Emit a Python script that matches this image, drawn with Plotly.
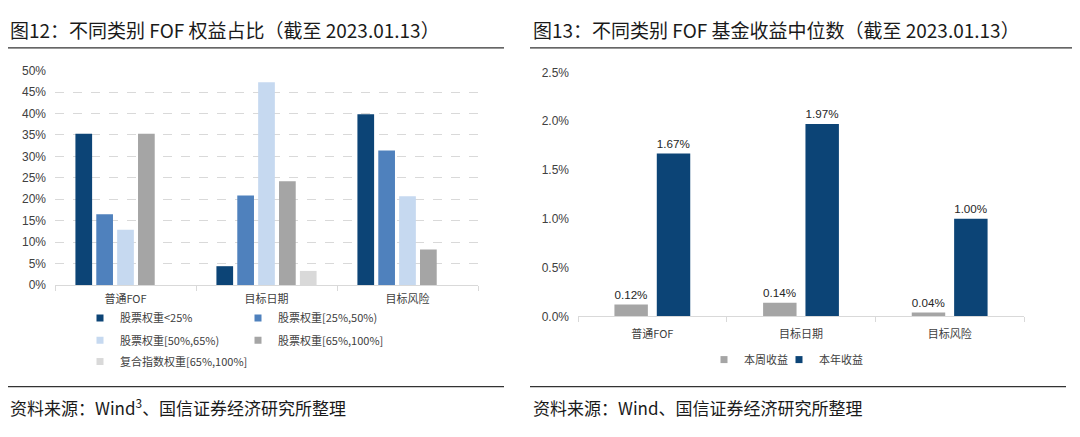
import plotly.graph_objects as go

# ---------------- data ----------------
left_categories = ["普通FOF", "目标日期", "目标风险"]
left_series_names = ["股票权重<25%", "股票权重[25%,50%)", "股票权重[50%,65%)",
                     "股票权重[65%,100%]", "复合指数权重[65%,100%]"]
left_s1 = [35.3, 4.4, 39.8]
left_s2 = [16.5, 20.9, 31.4]
left_s3 = [12.9, 47.3, 20.7]
left_s4 = [35.3, 24.2, 8.3]
left_s5 = [None, 3.3, None]
left_yticks = [0, 5, 10, 15, 20, 25, 30, 35, 40, 45, 50]

right_categories = ["普通FOF", "目标日期", "目标风险"]
right_series_names = ["本周收益", "本年收益"]
right_week = [0.12, 0.14, 0.04]
right_year = [1.67, 1.97, 1.00]
right_yticks = [0.0, 0.5, 1.0, 1.5, 2.0, 2.5]

title_left = "图12：不同类别 FOF 权益占比（截至 2023.01.13）"
title_right = "图13：不同类别 FOF 基金收益中位数（截至 2023.01.13）"
source_left = "资料来源：Wind<sup>3</sup>、国信证券经济研究所整理"
source_right = "资料来源：Wind、国信证券经济研究所整理"

# ---------------- style ----------------
W, H = 1080, 437
OFF = 8  # page body margin
NAVY = "#0c4476"
MID = "#4f81bd"
LIGHT = "#c6d9f0"
GRAY = "#a5a5a5"
LGRAY = "#d9d9d9"
CJK = "Noto Sans CJK SC, Liberation Sans, sans-serif"
LAT = "Liberation Sans, Arial, Noto Sans CJK SC, sans-serif"


def px_x(p):
    return (p - OFF) / W


def px_y(p):
    return 1 - (p - OFF) / H


fig = go.Figure()

left_vals = [left_s1, left_s2, left_s3, left_s4, left_s5]
left_cols = [NAVY, MID, LIGHT, GRAY, LGRAY]
legend_map = ["legend", "legend", "legend2", "legend2", "legend3"]
for name, vals, col, lg in zip(left_series_names, left_vals, left_cols, legend_map):
    fig.add_trace(go.Bar(
        x=left_categories, y=vals, name=name, marker=dict(color=col, line=dict(width=0)),
        xaxis="x", yaxis="y", showlegend=False, legendgroup=name,
    ))
    # legend entry with a small square symbol
    fig.add_trace(go.Scatter(
        x=[None], y=[None], mode="markers", name=name, legend=lg, legendgroup=name,
        marker=dict(symbol="square", size=7, color=col), xaxis="x", yaxis="y",
        hoverinfo="skip",
    ))

right_cols = [GRAY, NAVY]
for i, (name, vals, col) in enumerate(zip(right_series_names, [right_week, right_year], right_cols)):
    fig.add_trace(go.Bar(
        x=right_categories, y=vals, name=name, marker=dict(color=col, line=dict(width=0)),
        xaxis="x2", yaxis="y2", showlegend=False, legendgroup=name,
        width=0.225, offset=(-0.255 if i == 0 else 0.03),
        text=[f"{v:.2f}%" for v in vals], textposition="outside",
        textfont=dict(family=LAT, size=13, color="#262626"), cliponaxis=False,
    ))
    fig.add_trace(go.Scatter(
        x=[None], y=[None], mode="markers", name=name,
        legend=("legend4" if i == 0 else "legend5"), legendgroup=name,
        marker=dict(symbol="square", size=7, color=col), xaxis="x2", yaxis="y2",
        hoverinfo="skip",
    ))

legend_common = dict(orientation="h", xanchor="left", yanchor="middle",
                     font=dict(family=CJK, size=11, color="#404040"),
                     bgcolor="rgba(0,0,0,0)", itemwidth=30,
                     tracegroupgap=0, itemclick=False, itemdoubleclick=False)

fig.update_layout(
    width=W, height=H,
    margin=dict(l=0, r=0, t=0, b=0),
    paper_bgcolor="white", plot_bgcolor="white",
    barmode="group",
    bargap=0.26, bargroupgap=0.2,
    showlegend=True,
    xaxis=dict(domain=[px_x(55), px_x(478)], anchor="y", type="category",
               categoryorder="array", categoryarray=left_categories,
               showline=True, linecolor=LGRAY, linewidth=1,
               ticks="outside", tickson="boundaries", ticklen=5, tickcolor=LGRAY,
               ticklabelstandoff=4,
               tickfont=dict(family=CJK, size=11, color="#404040"), showgrid=False),
    yaxis=dict(domain=[px_y(287), px_y(65)], anchor="x", range=[0, 50.1],
               tickmode="array", tickvals=left_yticks,
               ticktext=[f"{v}%" for v in left_yticks],
               tickfont=dict(family=LAT, size=12, color="#404040"),
               ticklabelstandoff=8,
               showgrid=True, gridcolor="#d9d9d9", griddash="dash", gridwidth=1,
               zeroline=False, showline=False, ticks=""),
    xaxis2=dict(domain=[px_x(578), px_x(1024)], anchor="y2", type="category",
                categoryorder="array", categoryarray=right_categories,
                showline=True, linecolor=LGRAY, linewidth=1,
                ticks="outside", tickson="boundaries", ticklen=5, tickcolor=LGRAY,
                ticklabelstandoff=7,
                tickfont=dict(family=CJK, size=11, color="#404040"), showgrid=False),
    yaxis2=dict(domain=[px_y(319.3), px_y(67.3)], anchor="x2", range=[0, 2.5],
                tickmode="array", tickvals=right_yticks,
                ticktext=[f"{v:.1f}%" for v in right_yticks],
                tickfont=dict(family=LAT, size=12, color="#404040"),
                ticklabelstandoff=8,
                showgrid=False, zeroline=False, showline=False, ticks=""),
    legend=dict(x=px_x(80), y=px_y(321), entrywidth=113, **legend_common),
    legend2=dict(x=px_x(80), y=px_y(344), entrywidth=113, **legend_common),
    legend3=dict(x=px_x(80), y=px_y(366), **legend_common),
    legend4=dict(x=px_x(704), y=px_y(364), **legend_common),
    legend5=dict(x=px_x(779), y=px_y(364), **legend_common),
)

# titles
for xx, txt in [(8, title_left), (531, title_right)]:
    fig.add_annotation(x=px_x(xx), y=px_y(23), xref="paper", yref="paper", xanchor="left",
                       yanchor="middle", text=txt, showarrow=False,
                       font=dict(family=CJK, size=19, color="#1a1a1a"))
# sources
for xx, txt in [(8, source_left), (531, source_right)]:
    fig.add_annotation(x=px_x(xx), y=px_y(413), xref="paper", yref="paper", xanchor="left",
                       yanchor="middle", text=txt, showarrow=False,
                       font=dict(family=CJK, size=17, color="#1a1a1a"))

# rules
for x0, x1, yy in [(7, 504, 42), (530, 1072, 42), (3, 504, 392), (530, 1066, 392)]:
    fig.add_shape(type="line", xref="paper", yref="paper",
                  x0=px_x(x0), x1=px_x(x1), y0=px_y(yy), y1=px_y(yy),
                  line=dict(color="#333333", width=1.3))

fig.write_html("out.html")
